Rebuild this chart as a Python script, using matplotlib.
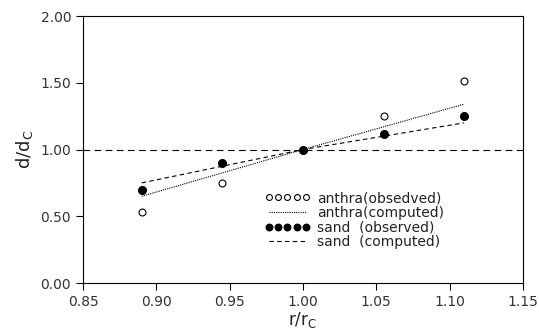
import matplotlib
matplotlib.use("Agg")
import matplotlib.pyplot as plt
from matplotlib.ticker import FormatStrFormatter

plt.rcParams['font.family'] = ['DejaVu Sans']
plt.rcParams['mathtext.default'] = 'regular'

r_ratio = [0.89, 0.945, 1.00, 1.055, 1.11]
anthra_obs = [0.53, 0.75, 1.00, 1.25, 1.51]
sand_obs = [0.70, 0.90, 1.00, 1.12, 1.25]
comp_x = [0.89, 1.00, 1.11]
anthra_comp = [0.65, 1.00, 1.34]
sand_comp = [0.75, 1.00, 1.20]
ref_x = [0.85, 1.15]
ref_y = [1.00, 1.00]
x_ticks = [0.85, 0.90, 0.95, 1.00, 1.05, 1.10, 1.15]
y_ticks = [0.00, 0.50, 1.00, 1.50, 2.00]

fig = plt.figure(figsize=(5.39, 3.30), dpi=100)
ax = fig.add_axes([0.154, 0.1424, 0.816, 0.809])

ax.plot(ref_x, ref_y, color='black', linestyle=(0, (6, 4)), linewidth=0.8)
ax.plot(r_ratio, anthra_obs, linestyle='none', marker='o', markersize=5,
        markerfacecolor='white', markeredgecolor='black', markeredgewidth=0.8,
        label='anthra(obsedved)')
ax.plot(comp_x, anthra_comp, color='black', linestyle=(0, (1, 1)), linewidth=0.8,
        label='anthra(computed)')
ax.plot(r_ratio, sand_obs, linestyle='none', marker='o', markersize=5.5,
        color='black', label='sand  (observed)')
ax.plot(comp_x, sand_comp, color='black', linestyle=(0, (4, 3)), linewidth=0.8,
        label='sand  (computed)')

ax.set_xlim(0.85, 1.15)
ax.set_ylim(0.0, 2.0)
ax.set_xticks(x_ticks)
ax.set_yticks(y_ticks)
ax.xaxis.set_major_formatter(FormatStrFormatter('%.2f'))
ax.yaxis.set_major_formatter(FormatStrFormatter('%.2f'))
ax.tick_params(direction='out', length=5, width=0.8, labelsize=10,
               colors='black', labelcolor='#333333')
for s in ax.spines.values():
    s.set_linewidth(0.8)

ax.set_xlabel('r/r$_C$', fontsize=12, labelpad=1, color='#222222')
ax.set_ylabel('d/d$_C$', fontsize=13, labelpad=4, color='#222222')

leg = ax.legend(loc='upper left', bbox_to_anchor=(0.40, 0.365), frameon=False,
                numpoints=5, handlelength=3.3, handletextpad=0.5,
                labelspacing=0.05, fontsize=10, borderaxespad=0,
                markerscale=0.85)
for t in leg.get_texts():
    t.set_color('#222222')

fig.savefig('out.png', dpi=100)
